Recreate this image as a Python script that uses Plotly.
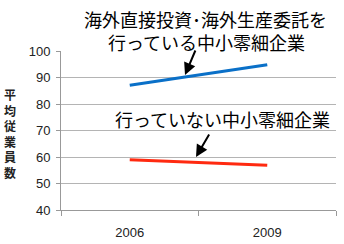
import plotly.graph_objects as go

years = ["2006", "2009"]
overseas = [87.1, 94.8]
domestic = [59.0, 56.9]
y_ticks = [40, 50, 60, 70, 80, 90, 100]

fig = go.Figure()
fig.add_trace(go.Scatter(x=years, y=overseas, mode="lines",
                         line=dict(color="#0a70c8", width=3), showlegend=False))
fig.add_trace(go.Scatter(x=years, y=domestic, mode="lines",
                         line=dict(color="#ff2a10", width=3), showlegend=False))

jp = "Noto Sans CJK JP"
fig.update_layout(
    width=344, height=244,
    margin=dict(l=61, r=8, t=51, b=34),
    paper_bgcolor="white", plot_bgcolor="white",
    font=dict(family="Liberation Sans, Arial, sans-serif", size=13, color="#222"),
    xaxis=dict(type="category", range=[-0.5, 1.5], tickson="boundaries",
               ticks="outside", ticklen=5, ticklabelstandoff=10, automargin=False,
               tickcolor="#999", showline=True, linecolor="#999", linewidth=1,
               showgrid=False, tickfont=dict(size=13)),
    yaxis=dict(range=[40, 100], tickvals=y_ticks, ticks="outside", ticklen=4,
               ticklabelstandoff=3, automargin=False,
               tickcolor="#999", showline=True, linecolor="#999", linewidth=1,
               gridcolor="#b4b4b4", gridwidth=1, zeroline=False,
               tickfont=dict(size=13)),
)

W, H = 275, 159
def px(xp):
    return (xp - 61) / W
def py(yp):
    return (210 - yp) / H

fig.add_annotation(xref="paper", yref="paper", x=px(10), y=py(133),
                   xanchor="center", yanchor="middle", showarrow=False,
                   text="平<br>均<br>従<br>業<br>員<br>数",
                   font=dict(family=jp, size=12, color="#222", weight="bold"))

# annotation 1 (two lines)
fig.add_annotation(xref="paper", yref="paper", x=px(205), y=py(19),
                   xanchor="center", yanchor="middle", showarrow=False,
                   text="海外直接投資･海外生産委託を",
                   font=dict(family=jp, size=18, color="black"))
fig.add_annotation(xref="paper", yref="paper", x=px(206), y=py(42),
                   xanchor="center", yanchor="middle", showarrow=False,
                   text="行っている中小零細企業",
                   font=dict(family=jp, size=18, color="black"))
fig.add_annotation(xref="paper", yref="paper", x=px(185), y=py(75),
                   ax=11, ay=-26, showarrow=True, arrowhead=2, arrowsize=1.2,
                   arrowwidth=2, arrowcolor="black", text="")
# annotation 2
fig.add_annotation(xref="paper", yref="paper", x=px(222), y=py(119),
                   xanchor="center", yanchor="middle", showarrow=False,
                   text="行っていない中小零細企業",
                   font=dict(family=jp, size=18, color="black"))
fig.add_annotation(xref="paper", yref="paper", x=px(196), y=py(157),
                   ax=14, ay=-24, showarrow=True, arrowhead=2, arrowsize=1.2,
                   arrowwidth=2, arrowcolor="black", text="")

fig.write_html("out.html")
